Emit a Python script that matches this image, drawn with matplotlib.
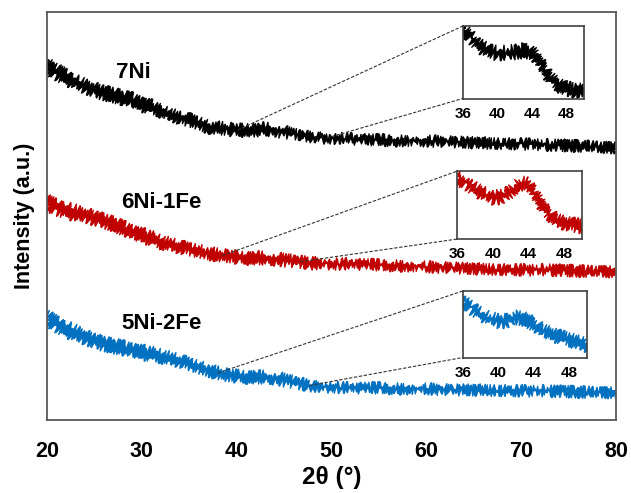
import matplotlib
matplotlib.use("Agg")
import matplotlib.pyplot as plt
import numpy as np

plt.rcParams['font.family'] = ['Liberation Sans', 'DejaVu Sans']
plt.rcParams['font.weight'] = 'bold'

# main patterns (2theta, band centre, band half-width), arbitrary units
two_theta = [20, 21, 22, 23, 24, 25, 26, 27, 28, 29, 30, 31, 32, 33, 34, 35, 36, 37, 38, 39,
             40, 41, 42, 43, 44, 45, 46, 47, 48, 49, 50, 52, 55, 58, 60, 63, 66, 70, 73, 76, 80]

ni7 = [354, 348, 343, 338, 334, 330, 327, 325, 322, 320, 316, 313, 309, 306, 302, 300, 297, 293, 292, 291,
       290, 290, 290, 291, 290, 288, 286, 285, 283, 282, 282, 281, 280, 279, 279, 278, 277, 276, 275, 274, 272]
ni7_hw = [6, 6, 6, 5, 5, 5, 5, 5, 5, 5, 5, 5, 4, 4, 4, 4, 4, 4, 4, 4,
          4, 4, 4, 4, 4, 4, 3, 3, 3, 3, 3, 3, 3, 3, 3, 3, 3, 3, 3, 3, 3]

ni6fe1 = [217, 213, 210, 207, 205, 202, 199, 196, 192, 188, 185, 182, 178, 176, 173, 171, 169, 167, 165, 164,
          163, 162, 162, 162, 161, 160, 159, 158, 157, 157, 156, 156, 155, 154, 153, 152, 151, 150, 150, 149, 148]
ni6fe1_hw = [6, 6, 6, 6, 5, 5, 5, 5, 5, 5, 5, 5, 5, 4, 4, 4, 4, 4, 4, 4,
             4, 4, 4, 4, 4, 4, 4, 4, 4, 3, 3, 3, 3, 3, 3, 3, 3, 3, 3, 3, 3]

ni5fe2 = [102, 96, 91, 87, 83, 79, 76, 74, 72, 70, 68, 66, 64, 62, 59, 56, 53, 50, 47, 45,
          44, 43, 43, 43, 42, 40, 38, 36, 34, 33, 33, 32, 32, 31, 31, 30, 30, 29, 29, 28, 27]
ni5fe2_hw = [6, 6, 6, 6, 5, 5, 5, 5, 5, 5, 5, 5, 5, 4, 4, 4, 4, 4, 4, 4,
             4, 4, 4, 4, 4, 4, 4, 4, 3, 3, 3, 3, 3, 3, 3, 3, 3, 3, 3, 3, 3]

# zoomed 36-50 region (percent of inset height)
inset_theta = [36, 37, 38, 39, 40, 41, 42, 43, 44, 45, 46, 47, 48, 49, 50]
ni7_zoom = [94, 84, 72, 65, 63, 63, 64, 66, 64, 48, 30, 19, 13, 11, 10]
ni6fe1_zoom = [89, 82, 73, 66, 61, 62, 70, 82, 80, 60, 40, 29, 24, 21, 18]
ni5fe2_zoom = [84, 74, 66, 59, 55, 55, 60, 58, 50, 41, 36, 31, 27, 23, 19]
zoom_hw = 6

names = ["7Ni", "6Ni-1Fe", "5Ni-2Fe"]
colors = ["#000000", "#C00000", "#0070C0"]


def noisy_band(axis, x, mid, hw, color, scale):
    # closed polygon between the lower and upper envelope, drawn with a sketch style
    x = np.asarray(x, float)
    lo = np.asarray(mid, float) - np.asarray(hw, float)
    hi = np.asarray(mid, float) + np.asarray(hw, float)
    poly, = axis.fill(np.r_[x, x[::-1]], np.r_[lo, hi[::-1]], color=color,
                      edgecolor=color, lw=0.8)
    poly.set_sketch_params(scale=scale, length=0.9, randomness=6)
    return poly


fig = plt.figure(figsize=(6.31, 4.93), dpi=100)
ax = fig.add_axes([0.0745, 0.148, 0.9017, 0.8276])

series = [(ni7, ni7_hw), (ni6fe1, ni6fe1_hw), (ni5fe2, ni5fe2_hw)]
for (mid, hw), c in zip(series, colors):
    noisy_band(ax, two_theta, mid, hw, c, 3.5)

ax.set_xlim(20, 80)
ax.set_ylim(0, 408)
ax.set_yticks([])
ax.set_xticks([20, 30, 40, 50, 60, 70, 80])
ax.tick_params(axis='x', length=0, labelsize=15.5, pad=15)
for s in ax.spines.values():
    s.set_color("#595959")
    s.set_linewidth(1.3)
ax.set_xlabel("2θ (°)", fontsize=17.5, fontweight='bold', labelpad=3)
ax.set_ylabel("Intensity (a.u.)", fontsize=15.5, fontweight='bold', labelpad=9)

ax.text(29.1, 348, names[0], fontsize=16, fontweight='bold', ha='center', va='center')
ax.text(32.1, 218, names[1], fontsize=16, fontweight='bold', ha='center', va='center')
ax.text(32.1, 97, names[2], fontsize=16, fontweight='bold', ha='center', va='center')

inset_pos = [[0.7333, 0.8002, 0.1922, 0.147],
             [0.725, 0.5152, 0.1973, 0.1379],
             [0.7333, 0.2748, 0.1962, 0.1349]]
zooms = [ni7_zoom, ni6fe1_zoom, ni5fe2_zoom]
# where the dashed guide lines leave the main curve (2theta)
guide_from = [(40.1, 49.5), (38.5, 46.7), (38.0, 47.7)]

for pos, z, c, (g1, g2), (mid, hw) in zip(inset_pos, zooms, colors, guide_from, series):
    ins = fig.add_axes(pos)
    noisy_band(ins, inset_theta, z, [zoom_hw] * len(z), c, 4)
    ins.set_xlim(36, 50)
    ins.set_ylim(0, 100)
    ins.set_yticks([])
    ins.set_xticks([36, 40, 44, 48])
    ins.tick_params(axis='x', length=0, labelsize=11, pad=6)
    for s in ins.spines.values():
        s.set_color("#404040")
        s.set_linewidth(1.2)

    # dashed guides from main curve to the inset's left corners
    y1 = np.interp(g1, two_theta, mid)
    y2 = np.interp(g2, two_theta, mid)
    for gx, gy, corner in [(g1, y1, 1.0), (g2, y2, 0.0)]:
        p0 = fig.transFigure.inverted().transform(ax.transData.transform((gx, gy)))
        fig.add_artist(plt.Line2D([p0[0], pos[0]], [p0[1], pos[1] + corner * pos[3]],
                                  transform=fig.transFigure, color="#333333",
                                  lw=0.8, ls=(0, (3, 1.5))))

fig.savefig("out.png", dpi=100)
